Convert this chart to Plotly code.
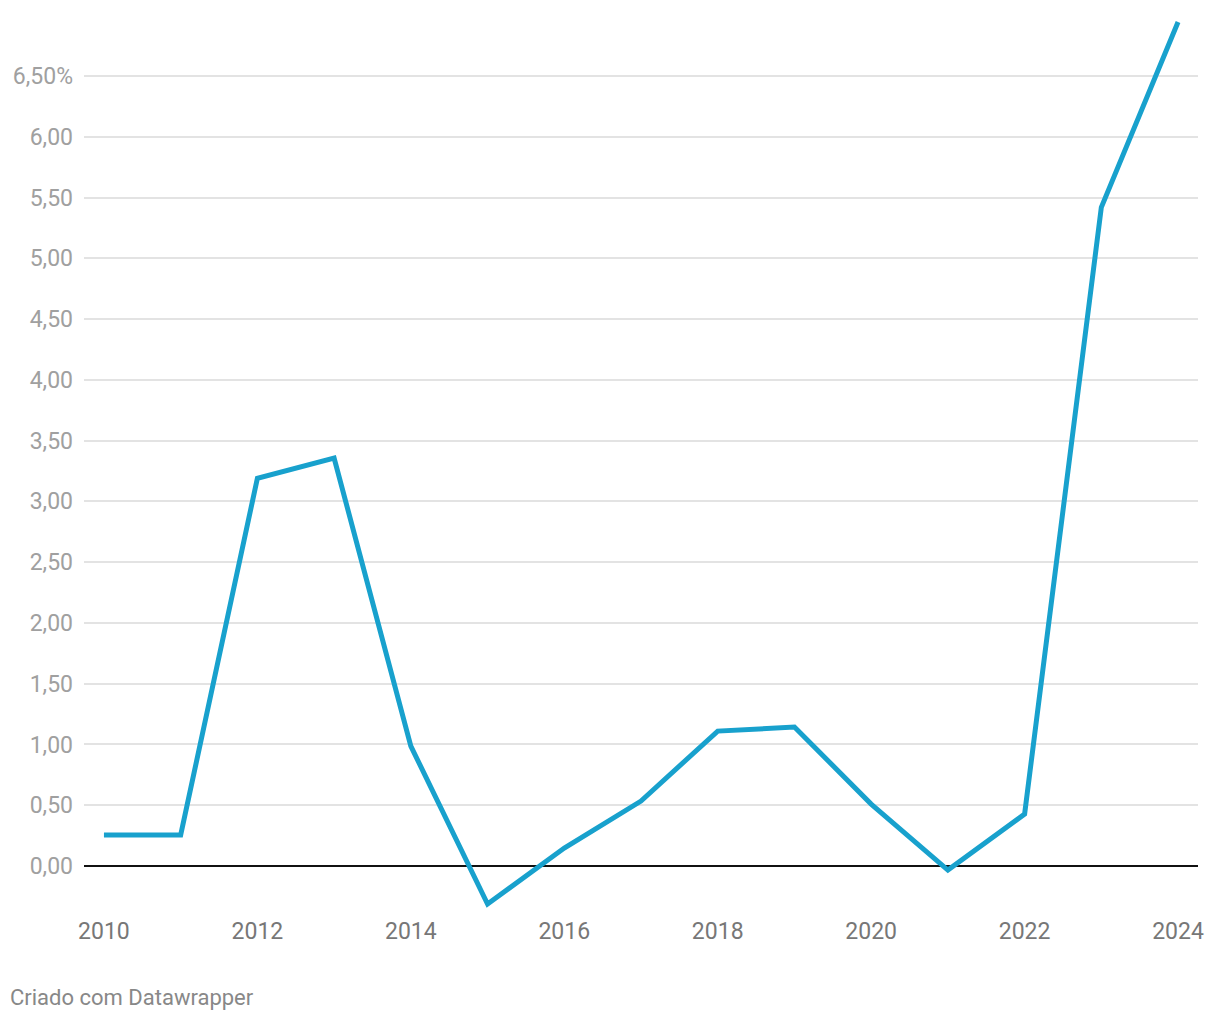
import plotly.graph_objects as go

years = list(range(2010, 2025))
values = [0.255, 0.255, 3.19, 3.357, 0.987, -0.313, 0.148, 0.535, 1.11, 1.144, 0.51, -0.033, 0.428, 5.42, 6.944]

y_tickvals = [0, 0.5, 1, 1.5, 2, 2.5, 3, 3.5, 4, 4.5, 5, 5.5, 6, 6.5]
y_ticktext = ["0,00", "0,50", "1,00", "1,50", "2,00", "2,50", "3,00", "3,50", "4,00", "4,50", "5,00", "5,50", "6,00", "6,50%"]
x_tickvals = [2010, 2012, 2014, 2016, 2018, 2020, 2022, 2024]
x_ticktext = [str(v) for v in x_tickvals]

fig = go.Figure()
fig.add_trace(go.Scatter(
    x=years, y=values, mode="lines",
    line=dict(color="#18a1cd", width=5, shape="linear"),
    hoverinfo="skip",
))

fig.update_layout(
    width=1220, height=1020,
    margin=dict(l=84, r=22, t=16, b=109),
    paper_bgcolor="white", plot_bgcolor="white",
    showlegend=False,
    font=dict(family="Roboto", size=23, color="#999999"),
    xaxis=dict(
        range=[2009.74, 2024.26],
        tickvals=x_tickvals, ticktext=x_ticktext,
        showgrid=False, zeroline=False, showline=False,
        tickfont=dict(color="#777777", size=23, family="Roboto"),
        ticks="", ticklabelstandoff=4,
    ),
    yaxis=dict(
        range=[-0.370, 6.994],
        tickvals=y_tickvals, ticktext=y_ticktext,
        showgrid=True, gridcolor="#e3e3e3", gridwidth=1.5,
        zeroline=True, zerolinecolor="#111111", zerolinewidth=2,
        showline=False, ticks="", ticklabelstandoff=10,
        tickfont=dict(color="#a0a0a0", size=23, family="Roboto"),
    ),
)
fig.update_layout(annotations=[dict(
    text="Criado com Datawrapper", xref="paper", yref="paper",
    x=-76/1114, y=-(997-911)/895, xanchor="left", yanchor="middle",
    showarrow=False, font=dict(family="Roboto", size=22, color="#888888"),
)])

fig.write_html("out.html")
